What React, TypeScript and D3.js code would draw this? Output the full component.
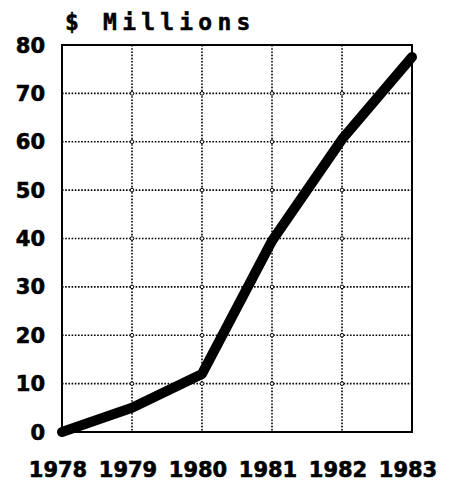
import React from 'react';
import * as d3 from 'd3';

// values
const years = [1978, 1979, 1980, 1981, 1982, 1983];
const revenue = [0, 5, 12, 39.5, 60.5, 77.5];
const yTicks = [0, 10, 20, 30, 40, 50, 60, 70, 80];
const title = '$ Millions';

const width = 450;
const height = 482;
const plot = { left: 62, right: 412, top: 45, bottom: 432 };

const App: React.FC = () => {
  const x = d3.scaleLinear().domain([1978, 1983]).range([plot.left, plot.right]);
  const y = d3.scaleLinear().domain([0, 80]).range([plot.bottom, plot.top]);

  const line = d3.line<number>()
    .x((_, i) => x(years[i]))
    .y(d => y(d));

  const innerYears = years.slice(1, -1);
  const innerTicks = yTicks.slice(1, -1);

  return (
    <svg
      width={width}
      height={height}
      style={{ position: 'absolute', left: 0, top: 0, background: '#fff' }}
    >
      <text
        x={65}
        y={29.5}
        fontFamily="'DejaVu Sans Mono', monospace"
        fontWeight="bold"
        fontSize={23}
        letterSpacing={5.2}
        fill="#000"
        stroke="#000"
        strokeWidth={0.5}
      >
        {title}
      </text>

      {/* dotted grid */}
      <g stroke="#000" strokeWidth={1.6} strokeDasharray="1.6,1.6">
        {innerYears.map(yr => (
          <line key={'v' + yr} x1={x(yr)} x2={x(yr)} y1={plot.top} y2={plot.bottom} />
        ))}
        {innerTicks.map(t => (
          <line key={'h' + t} x1={plot.left} x2={plot.right} y1={y(t)} y2={y(t)} />
        ))}
      </g>
      <g fill="#fff" stroke="#000" strokeWidth={1}>
        {innerYears.flatMap(yr =>
          innerTicks.map(t => <circle key={yr + '-' + t} cx={x(yr)} cy={y(t)} r={1.8} />)
        )}
      </g>

      {/* frame */}
      <rect
        x={plot.left}
        y={plot.top}
        width={plot.right - plot.left}
        height={plot.bottom - plot.top}
        fill="none"
        stroke="#000"
        strokeWidth={2}
      />

      <path
        d={line(revenue) ?? ''}
        fill="none"
        stroke="#000"
        strokeWidth={10}
        strokeLinejoin="round"
        strokeLinecap="round"
      />

      <g fontFamily="'DejaVu Sans', sans-serif" fontWeight="bold" fill="#000" stroke="#000" strokeWidth={0.6}>
        {yTicks.map(t => (
          <text key={t} x={45} y={y(t)} dy="0.36em" textAnchor="end" fontSize={21}>
            {t}
          </text>
        ))}
        {years.map(yr => (
          <text key={yr} x={x(yr) - 4} y={477} textAnchor="middle" fontSize={21}>
            {yr}
          </text>
        ))}
      </g>
    </svg>
  );
};

export default App;
